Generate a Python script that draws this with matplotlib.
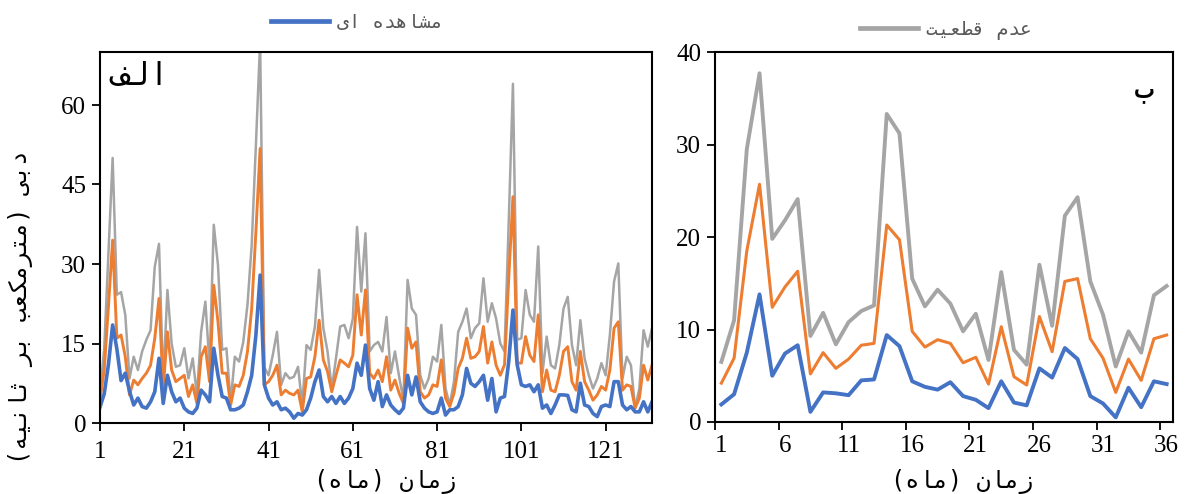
import matplotlib
matplotlib.use('Agg')
import matplotlib.pyplot as plt
from matplotlib.lines import Line2D

# ---------------- data ----------------
# Panel A (الف): monthly discharge, 132 months
obs_a = [3.0, 5.5, 11.0, 18.5, 14.0, 8.0, 9.4, 6.0, 3.4, 4.7, 3.1, 2.8, 4.0, 5.9, 12.2, 3.7, 9.0, 5.9, 4.0, 4.7, 2.8, 2.1,
         1.8, 2.8, 6.2, 5.3, 4.0, 14.1, 9.0, 5.0, 4.7, 2.5, 2.5, 2.8, 3.4, 5.9, 9.0, 16.6, 27.9, 7.2, 4.7, 3.4, 4.0,
         2.5, 2.8, 2.1, 0.9, 1.8, 1.5, 2.5, 4.7, 7.8, 10.0, 5.0, 4.0, 5.0, 3.7, 5.0, 3.7, 4.7, 6.5, 11.3, 9.0, 14.7,
         6.5, 4.3, 7.8, 3.1, 5.3, 3.4, 2.5, 1.8, 2.8, 9.0, 5.3, 8.7, 4.0, 2.8, 2.1, 1.8, 2.1, 4.7, 1.5, 2.5, 2.5,
         3.1, 5.3, 10.3, 7.5, 6.9, 7.8, 9.0, 4.3, 8.4, 2.1, 4.7, 5.0, 11.6, 21.3, 11.0, 7.2, 6.9, 7.2, 5.9, 7.2,
         2.8, 3.4, 1.8, 3.4, 5.3, 5.3, 5.2, 2.5, 2.1, 7.5, 3.4, 3.1, 1.8, 1.2, 3.1, 3.4, 3.1, 7.8, 7.8, 3.4, 2.5, 3.1,
         2.1, 2.1, 4.0, 2.1, 4.0]
mid_a = [4.5, 10.0, 22.0, 34.5, 16.0, 16.6, 12.5, 5.3, 8.1, 7.2, 8.4, 9.4, 10.9, 16.0, 23.5, 6.5, 17.2, 10.0, 7.8, 8.4, 9.0, 5.0,
         7.2, 3.7, 12.5, 14.4, 7.8, 26.0, 19.1, 9.4, 9.4, 3.4, 7.2, 6.9, 9.0, 13.5, 21.6, 36.1, 51.8, 7.2, 7.8, 9.0, 10.9,
         5.3, 6.2, 5.6, 5.3, 6.2, 2.1, 8.4, 8.7, 12.5, 19.4, 11.9, 9.7, 5.9, 9.0, 11.9, 11.3, 10.6, 12.8, 24.2, 16.6, 25.1,
         9.4, 8.4, 10.0, 7.8, 12.5, 6.2, 8.1, 5.6, 3.7, 17.9, 14.1, 15.3, 5.9, 4.7, 5.3, 7.2, 6.9, 11.9, 4.7, 3.1, 5.6,
         10.3, 12.2, 16.0, 12.2, 12.5, 13.5, 18.2, 11.3, 15.3, 10.9, 9.0, 11.0, 27.3, 42.7, 11.3, 11.3, 16.3, 12.8, 11.6, 20.4,
         5.9, 10.0, 6.2, 5.9, 9.0, 13.5, 14.4, 7.8, 6.2, 13.5, 7.8, 6.2, 4.3, 5.3, 6.9, 6.2, 10.0, 17.9, 19.1, 6.2, 7.2, 6.9,
         2.8, 4.7, 10.9, 8.1, 10.9]
upper_a = [5.6, 14.0, 32.0, 50.0, 24.2, 24.7, 20.4, 8.4, 12.5, 10.0, 13.5, 15.7, 17.5, 29.5, 33.8, 7.8, 25.1, 15.0, 10.6, 10.9, 14.1, 8.4,
           12.2, 5.3, 17.2, 22.9, 10.9, 37.4, 29.8, 13.8, 14.1, 4.0, 12.5, 11.6, 15.3, 22.3, 33.6, 52.5, 72.0, 10.5, 9.0, 12.8, 17.2,
           7.2, 9.4, 8.4, 8.7, 10.6, 3.4, 14.7, 13.8, 18.2, 28.9, 17.9, 13.5, 6.5, 12.2, 18.2, 18.5, 16.0, 19.7, 37.0, 24.8, 35.8,
           13.5, 14.7, 15.3, 13.5, 20.0, 9.4, 13.5, 8.7, 4.3, 27.0, 21.6, 20.4, 9.0, 6.5, 8.4, 12.5, 11.6, 18.5, 6.5, 3.4, 7.8,
           17.2, 19.1, 21.6, 16.0, 17.9, 18.8, 27.3, 19.1, 22.6, 19.7, 15.0, 13.5, 38.0, 64.0, 15.7, 16.0, 25.1, 20.4, 19.1, 33.3,
           9.4, 16.3, 10.9, 10.3, 14.7, 21.6, 23.8, 14.7, 10.9, 19.4, 12.2, 9.0, 6.5, 8.4, 11.3, 9.0, 16.6, 26.7, 30.1, 8.4, 12.5, 10.9,
           2.8, 6.5, 17.5, 14.4, 17.9]

# Panel B (ب): 36 months
obs_b = [1.9, 3.0, 7.5, 13.8, 5.0, 7.4, 8.3, 1.1, 3.2, 3.1, 2.9, 4.5, 4.6, 9.4, 8.2, 4.4, 3.8, 3.5,
         4.3, 2.8, 2.4, 1.5, 4.4, 2.1, 1.8, 5.8, 4.8, 8.0, 6.8, 2.8, 2.0, 0.5, 3.7, 1.6, 4.4, 4.1]
mid_b = [4.2, 6.9, 18.5, 25.7, 12.4, 14.6, 16.3, 5.2, 7.5, 5.8, 6.8, 8.3, 8.5, 21.3, 19.7, 9.8, 8.1, 8.9,
         8.5, 6.4, 7.0, 4.1, 10.3, 4.9, 4.0, 11.4, 7.6, 15.2, 15.5, 9.0, 6.9, 3.2, 6.8, 4.5, 9.0, 9.4]
upper_b = [6.5, 11.0, 29.5, 37.7, 19.8, 21.8, 24.1, 9.3, 11.8, 8.4, 10.8, 12.0, 12.6, 33.3, 31.2, 15.5, 12.5, 14.3,
           12.8, 9.8, 11.7, 6.7, 16.2, 7.8, 6.2, 17.0, 10.4, 22.3, 24.3, 15.2, 11.6, 6.0, 9.8, 7.5, 13.7, 14.7]

months_a = list(range(1, len(obs_a) + 1))
months_b = list(range(1, len(obs_b) + 1))
xticks_a = [1, 21, 41, 61, 81, 101, 121]
yticks_a = [0, 15, 30, 45, 60]
xticks_b = [1, 6, 11, 16, 21, 26, 31, 36]
yticks_b = [0, 10, 20, 30, 40]

label_a = "الف"
label_b = "ب"
legend_obs = "مشاهده ای"
legend_unc = "عدم قطعیت"
xlabel = "زمان (ماه)"
ylabel = "دبی (مترمکعب بر ثانیه)"

# ---------------- simple Arabic-script shaping for display ----------------
FORMS = {
    'ا': ('\uFE8D', '\uFE8E', None, None),
    'ب': ('\uFE8F', '\uFE90', '\uFE91', '\uFE92'),
    'ت': ('\uFE95', '\uFE96', '\uFE97', '\uFE98'),
    'ث': ('\uFE99', '\uFE9A', '\uFE9B', '\uFE9C'),
    'د': ('\uFEA9', '\uFEAA', None, None),
    'ر': ('\uFEAD', '\uFEAE', None, None),
    'ز': ('\uFEAF', '\uFEB0', None, None),
    'ش': ('\uFEB5', '\uFEB6', '\uFEB7', '\uFEB8'),
    'ط': ('\uFEC1', '\uFEC2', '\uFEC3', '\uFEC4'),
    'ع': ('\uFEC9', '\uFECA', '\uFECB', '\uFECC'),
    'ف': ('\uFED1', '\uFED2', '\uFED3', '\uFED4'),
    'ق': ('\uFED5', '\uFED6', '\uFED7', '\uFED8'),
    'ل': ('\uFEDD', '\uFEDE', '\uFEDF', '\uFEE0'),
    'م': ('\uFEE1', '\uFEE2', '\uFEE3', '\uFEE4'),
    'ن': ('\uFEE5', '\uFEE6', '\uFEE7', '\uFEE8'),
    'ه': ('\uFEE9', '\uFEEA', '\uFEEB', '\uFEEC'),
    'ک': ('\uFB8E', '\uFB8F', '\uFB90', '\uFB91'),
    'ی': ('\uFBFC', '\uFBFD', '\uFBFE', '\uFBFF'),
}


def rtl(s):
    out = []
    n = len(s)
    for k, c in enumerate(s):
        if c not in FORMS:
            out.append(c)
            continue
        iso, fin, ini, med = FORMS[c]
        prev = s[k - 1] if k > 0 else ''
        nxt = s[k + 1] if k + 1 < n else ''
        pj = prev in FORMS and FORMS[prev][2] is not None
        nj = ini is not None and nxt in FORMS
        if pj and nj:
            f = med
        elif pj:
            f = fin
        elif nj:
            f = ini
        else:
            f = iso
        out.append(f)
    mirror = {'(': ')', ')': '('}
    return ''.join(mirror.get(c, c) for c in reversed(out))


# ---------------- style ----------------
BLUE = '#4472C4'
ORANGE = '#ED7D31'
GRAY = '#A5A5A5'
TXT_GRAY = '#595959'
NUM_FONT = ['Liberation Serif', 'DejaVu Serif']
AR_FONT = ['DejaVu Sans Mono', 'DejaVu Sans']
AR_FONT2 = ['DejaVu Sans Mono', 'DejaVu Sans']

W, H = 1190, 494
fig = plt.figure(figsize=(W / 100, H / 100), dpi=100)


def frac_box(x0, y0, x1, y1):
    return [x0 / W, 1 - y1 / H, (x1 - x0) / W, (y1 - y0) / H]


ax1 = fig.add_axes(frac_box(100, 52, 652, 423))
ax2 = fig.add_axes(frac_box(715, 52, 1173, 422))

# panel A
ax1.plot(months_a, upper_a, color=GRAY, lw=1.8)
ax1.plot(months_a, mid_a, color=ORANGE, lw=2.1)
ax1.plot(months_a, obs_a, color=BLUE, lw=2.6)
ax1.set_xlim(1, len(obs_a))
ax1.set_ylim(0, 70)
ax1.set_xticks(xticks_a)
ax1.set_yticks(yticks_a)

# panel B
ax2.plot(months_b, upper_b, color=GRAY, lw=2.8)
ax2.plot(months_b, mid_b, color=ORANGE, lw=2.2)
ax2.plot(months_b, obs_b, color=BLUE, lw=2.8)
ax2.set_xlim(0.5, len(obs_b) + 0.5)
ax2.set_ylim(0, 40)
ax2.set_yticks(yticks_b)
ax2.set_xticks([t - 0.5 for t in xticks_b])
ax2.set_xticklabels([])
ax2.set_xticks(xticks_b, minor=True)
ax2.set_xticklabels([str(t) for t in xticks_b], minor=True)
ax2.tick_params(axis='x', which='minor', length=0, pad=9)

for ax in (ax1, ax2):
    for sp in ax.spines.values():
        sp.set_color('black')
        sp.set_linewidth(1.5)
    ax.tick_params(axis='both', which='major', direction='out', length=6, width=1.3,
                   colors='black', labelsize=18, pad=4)
    ax.tick_params(axis='x', which='minor', labelsize=18)
    for lab in ax.get_xticklabels(which='both') + ax.get_yticklabels():
        lab.set_family(NUM_FONT)
ax1.tick_params(axis='x', pad=7)

# panel labels
ax1.text(0.02, 0.935, rtl(label_a), transform=ax1.transAxes, ha='left', va='center',
         fontsize=23, family=AR_FONT2, color='black')
ax2.text(0.937, 0.905, rtl(label_b), transform=ax2.transAxes, ha='center', va='center',
         fontsize=24, family=AR_FONT2, color='black')

# legends
h_obs = Line2D([], [], color=BLUE, lw=3.4)
h_unc = Line2D([], [], color=GRAY, lw=3.4)
leg1 = fig.legend([h_obs], [rtl(legend_obs)], loc='center', bbox_to_anchor=(357 / W, 1 - 22 / H),
                  frameon=False, handlelength=3.0, handletextpad=0.4, borderpad=0,
                  prop={'family': AR_FONT, 'size': 14})
leg2 = fig.legend([h_unc], [rtl(legend_unc)], loc='center', bbox_to_anchor=(946 / W, 1 - 30 / H),
                  frameon=False, handlelength=3.0, handletextpad=0.4, borderpad=0,
                  prop={'family': AR_FONT, 'size': 14})
for lg in (leg1, leg2):
    for t in lg.get_texts():
        t.set_color(TXT_GRAY)

# axis labels
fig.text(385 / W, 1 - 481 / H, rtl(xlabel), ha='center', va='center', fontsize=17,
         family=AR_FONT, color='black')
fig.text(962 / W, 1 - 481 / H, rtl(xlabel), ha='center', va='center', fontsize=17,
         family=AR_FONT, color='black')
fig.text(21 / W, 1 - 307 / H, rtl(ylabel), ha='center', va='center', rotation=90, fontsize=17,
         family=AR_FONT, color='black')

fig.savefig('out.png', dpi=100)
